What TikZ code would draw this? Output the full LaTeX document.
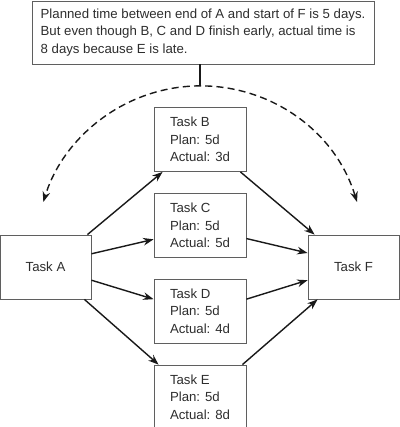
\documentclass[tikz,border=0pt]{standalone}
\usepackage{fontspec}
\setmainfont{Liberation Sans}
\usepackage{tikz}
\usetikzlibrary{arrows.meta,positioning,calc}
\definecolor{textgray}{RGB}{45,45,45}
\definecolor{boxgray}{RGB}{95,95,95}

\begin{document}
\begin{tikzpicture}[
        node distance=5.25mm and 6mm,
        task/.style={draw=boxgray, line width=0.6pt, align=center, minimum width=2.3cm, minimum height=1.6cm, inner sep=0pt, text=textgray, font=\fontsize{9.4}{12.4}\selectfont},
        subtask/.style={task, align=left},
        note/.style={draw=boxgray, line width=0.6pt, align=left, minimum width=8.55cm, minimum height=1.575cm, inner sep=0pt, text=textgray, font=\fontsize{9.4}{12.4}\selectfont},
        arr/.style={-{Stealth[length=2.6mm, width=1.9mm]}, line width=1pt, black!90},
        span/.style={{Stealth[length=2.6mm, width=1.9mm]}-{Stealth[length=2.6mm, width=1.9mm]}, line width=1pt, dash pattern=on 5pt off 3pt, black!90}
    ]
        \useasboundingbox (0,0) rectangle (10,10.675);

        \node[note] (note) at (5.075,9.8625) {Planned time between end of A and start of F is 5 days.\\But even though B, C and D finish early, actual time is\\8 days because E is late.};

        \node[task, minimum width=2.275cm] (taskA) at (1.1375,4.0) {Task A};
        \node[task, minimum width=2.275cm] (taskF) at (8.8375,4.0) {Task F};

        \node[subtask] (taskB) at (5,7.1875) {Task B\\Plan: 5d\\Actual: 3d};
        \node[subtask, below=of taskB] (taskC) {Task C\\Plan: 5d\\Actual: 5d};
        \node[subtask, below=of taskC] (taskD) {Task D\\Plan: 5d\\Actual: 4d};
        \node[subtask, below=of taskD] (taskE) {Task E\\Plan: 5d\\Actual: 8d};

        \coordinate (apex) at (5.004,8.526);
        \coordinate (arcR) at (8.925,5.625);

        \draw[line width=1.2pt, black!90] (note.south -| apex) -- (apex);
        \draw[span] (arcR) arc[start angle=17, end angle=163, radius=4.1];

        \draw[arr] ([xshift=-0.1cm]taskA.north east) -- ([xshift=0.225cm]taskB.south west);
        \draw[arr] ([yshift=0.33cm]taskA.east) -- ([yshift=-0.35cm]taskC.west);
        \draw[arr] ([yshift=-0.33cm]taskA.east) -- ([yshift=0.3cm]taskD.west);
        \draw[arr] ([xshift=-0.175cm]taskA.south east) -- ([xshift=0.125cm]taskE.north west);
        \draw[arr] ([xshift=-0.15cm]taskB.south east) -- ([xshift=0.175cm]taskF.north west);
        \draw[arr] ([yshift=-0.33cm]taskC.east) -- ([yshift=0.35cm]taskF.west);
        \draw[arr] ([yshift=0.3cm]taskD.east) -- ([yshift=-0.33cm]taskF.west);
        \draw[arr] ([xshift=-0.1cm]taskE.north east) -- ([xshift=0.25cm]taskF.south west);
    \end{tikzpicture}
\end{document}
